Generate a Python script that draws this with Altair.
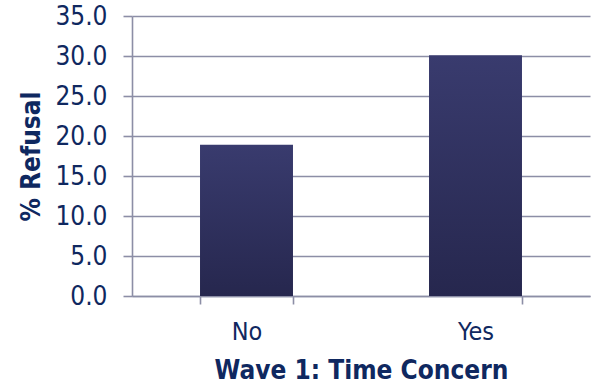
import altair as alt
import pandas as pd

categories = ["No", "Yes"]
refusal = [18.9, 30.1]

df = pd.DataFrame({"concern": categories, "refusal": refusal})

NAVY = "#0f2860"
GRID = "#8c8ea6"
FONT = "DejaVu Sans Condensed"

bars = alt.Chart(df).mark_bar(
    color=alt.Gradient(
        gradient="linear",
        stops=[alt.GradientStop(color="#393b6e", offset=0),
               alt.GradientStop(color="#26274e", offset=1)],
        x1=0, x2=0, y1=0, y2=1,
    )
).encode(
    x=alt.X("concern:N", sort=categories,
            scale=alt.Scale(paddingInner=0.594, paddingOuter=0.297),
            axis=alt.Axis(title="Wave 1: Time Concern", labelAngle=0,
                          tickBand="extent", tickSize=8, tickColor=GRID, tickWidth=1.6,
                          domainColor=GRID, domainWidth=1.6,
                          labelFont=FONT, labelFontSize=25, labelColor=NAVY,
                          labelPadding=15, titleFont=FONT, titleFontSize=26,
                          titleFontWeight="bold", titleColor=NAVY, titlePadding=13)),
    y=alt.Y("refusal:Q", scale=alt.Scale(domain=[0, 35], nice=False),
            axis=alt.Axis(title="% Refusal", values=[0, 5, 10, 15, 20, 25, 30, 35],
                          format=".1f", grid=True, gridColor=GRID, gridWidth=1.6,
                          tickSize=9, tickColor=GRID, tickWidth=1.6,
                          domainColor=GRID, domainWidth=1.6,
                          labelFont=FONT, labelFontSize=26, labelColor=NAVY,
                          labelPadding=16, titleFont=FONT, titleFontSize=26,
                          titleFontWeight="bold", titleColor=NAVY, titlePadding=10)),
)

chart = bars.properties(
    width=458, height=280,
    autosize=alt.AutoSizeParams(type="none"),
    padding={"left": 132, "top": 16, "right": 8, "bottom": 88},
).configure_view(stroke=None)

chart.save("out.html", embed_options={"renderer": "svg", "actions": False})
